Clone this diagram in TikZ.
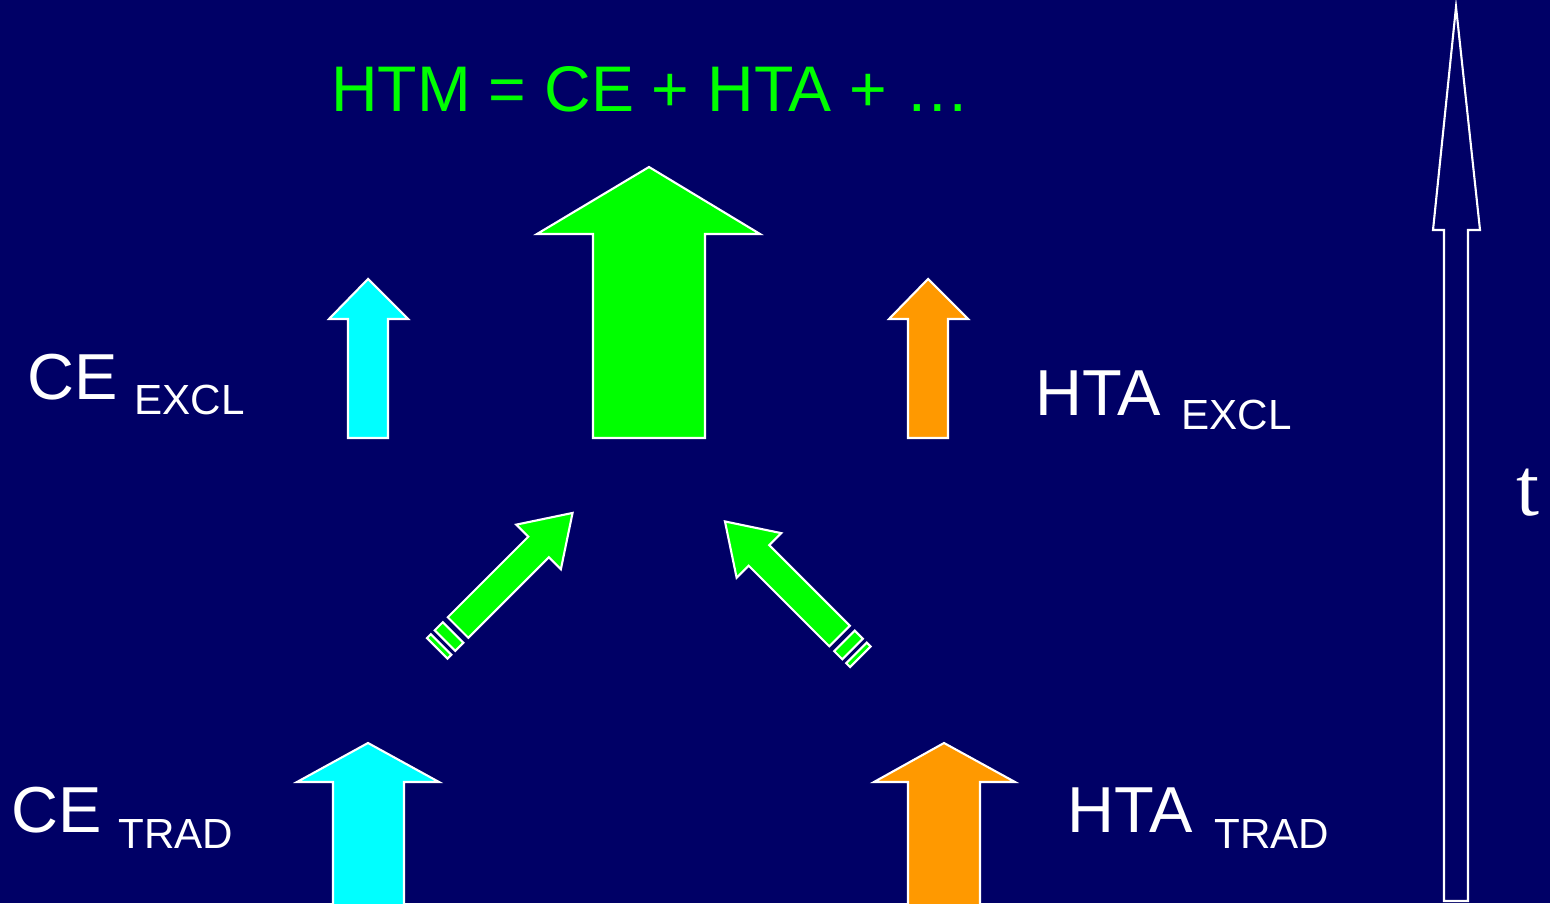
\documentclass[tikz,border=0pt]{standalone}
\usepackage{fontspec}
\setmainfont{Liberation Sans}
\newfontfamily\timesface{Liberation Serif}
\usepackage{tikz}

\definecolor{navy}{RGB}{0,0,102}
\definecolor{lime}{RGB}{0,255,0}
\definecolor{aqua}{RGB}{0,255,255}
\definecolor{amber}{RGB}{255,153,0}

\begin{document}
\begin{tikzpicture}[x=0.02cm,y=0.02cm,
	blockarrow/.style={draw=white,line width=1.2pt,line join=miter},
	big/.style={inner sep=0,anchor=base west,font=\fontsize{37}{37}\selectfont},
	small/.style={inner sep=0,anchor=base west,font=\fontsize{24}{24}\selectfont}]

	\useasboundingbox (0,0) rectangle (1550,903);
	\fill[navy] (0,0) rectangle (1550,903);

	% upright arrows
	\filldraw[blockarrow,fill=lime] (593,465) -- (593,669) -- (537,669) -- (649,736) -- (760,669) -- (705,669) -- (705,465) -- cycle;
	\filldraw[blockarrow,fill=aqua] (348,465) -- (348,584) -- (329,584) -- (368,624) -- (408,584) -- (388,584) -- (388,465) -- cycle;
	\filldraw[blockarrow,fill=amber] (908,465) -- (908,584) -- (889,584) -- (928,624) -- (968,584) -- (948,584) -- (948,465) -- cycle;
	\filldraw[blockarrow,fill=aqua] (333,-5) -- (333,121) -- (297,121) -- (368,160) -- (439,121) -- (404,121) -- (404,-5) -- cycle;
	\filldraw[blockarrow,fill=amber] (908,-5) -- (908,121) -- (874,121) -- (944,160) -- (1015,121) -- (980,121) -- (980,-5) -- cycle;
	\draw[blockarrow] (1444,2) -- (1444,673) -- (1433,673) -- (1456,896) -- (1480,673) -- (1468,673) -- (1468,2) -- cycle;

	% striped arrows
	\begin{scope}[shift={(458,275.5)},rotate=45]
		\filldraw[blockarrow,fill=lime] (0,-14.5) -- (114,-14.5) -- (114,-31.5) -- (162,0) -- (114,31.5) -- (114,14.5) -- (0,14.5) -- cycle;
		\filldraw[blockarrow,fill=lime] (-18.5,-14.5) rectangle (-7,14.5);
		\filldraw[blockarrow,fill=lime] (-29.5,-14.5) rectangle (-24,14.5);
	\end{scope}
	\begin{scope}[shift={(839.5,267)},rotate=135]
		\filldraw[blockarrow,fill=lime] (0,-14.5) -- (114,-14.5) -- (114,-31.5) -- (162,0) -- (114,31.5) -- (114,14.5) -- (0,14.5) -- cycle;
		\filldraw[blockarrow,fill=lime] (-18.5,-14.5) rectangle (-7,14.5);
		\filldraw[blockarrow,fill=lime] (-29.5,-14.5) rectangle (-24,14.5);
	\end{scope}

	% labels
	\node[big,text=lime,font=\fontsize{36.7}{36.7}\selectfont] (title) at (331,791) {HTM = CE + HTA + …};
	\node[big,text=white] (ce) at (27,503) {CE};
	\node[small,text=white] (ceexcl) at (134,488) {EXCL};
	\node[big,text=white] (hta) at (1035,487) {HTA};
	\node[small,text=white] (htaexcl) at (1181,473) {EXCL};
	\node[big,text=white] (cetrad) at (11,71) {CE};
	\node[small,text=white] (cetradsub) at (118,55) {TRAD};
	\node[big,text=white] (htatrad) at (1067,71) {HTA};
	\node[small,text=white] (htatradsub) at (1214,55) {TRAD};
	\node[inner sep=0,anchor=base west,text=white] (time) at (1516,388) {\timesface\fontsize{47}{47}\selectfont t};
\end{tikzpicture}
\end{document}
